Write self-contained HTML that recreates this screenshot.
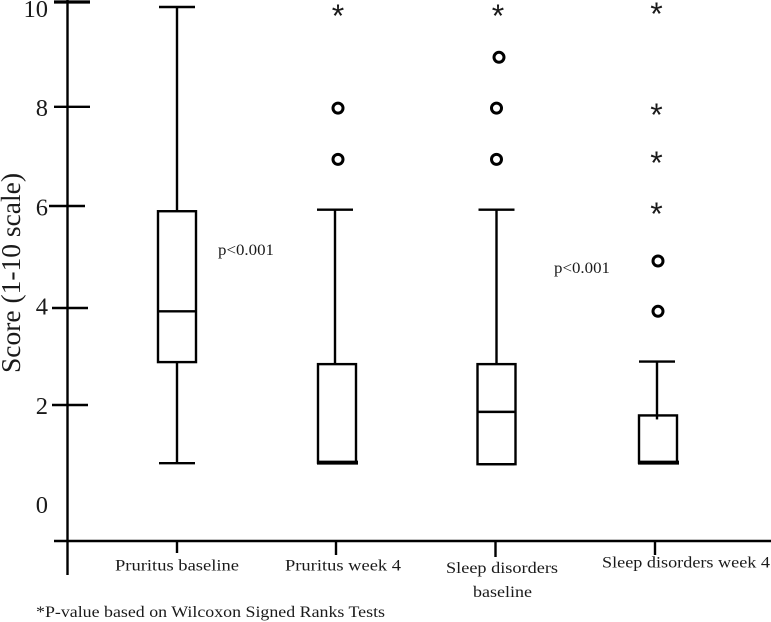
<!DOCTYPE html>
<html>
<head>
<meta charset="utf-8">
<style>
html,body{margin:0;padding:0;background:#fff;}
svg{display:block;font-family:"Liberation Serif",serif;}
text{fill:#1a1a1a;}
</style>
</head>
<body>
<svg id="chart" width="771" height="622" viewBox="0 0 771 622" xmlns="http://www.w3.org/2000/svg">
<line x1="67.5" y1="0" x2="67.5" y2="575" stroke="#000" stroke-width="2.4"/>
<line x1="54" y1="541" x2="771" y2="541" stroke="#000" stroke-width="2.4"/>
<text transform="translate(20,373) rotate(-90)" font-size="27" textLength="200" lengthAdjust="spacingAndGlyphs">Score (1-10 scale)</text>
<text x="218" y="255" font-size="16" textLength="56" lengthAdjust="spacingAndGlyphs">p&lt;0.001</text>
<text x="554" y="273" font-size="16" textLength="56" lengthAdjust="spacingAndGlyphs">p&lt;0.001</text>
<text x="115" y="570.5" font-size="16" textLength="124" lengthAdjust="spacingAndGlyphs">Pruritus baseline</text>
<text x="285" y="570.5" font-size="16" textLength="116" lengthAdjust="spacingAndGlyphs">Pruritus week 4</text>
<text x="446" y="573" font-size="16" textLength="112" lengthAdjust="spacingAndGlyphs">Sleep disorders</text>
<text x="473" y="597" font-size="16" textLength="59" lengthAdjust="spacingAndGlyphs">baseline</text>
<text x="602" y="567.5" font-size="16" textLength="168" lengthAdjust="spacingAndGlyphs">Sleep disorders week 4</text>
<text x="36" y="617" font-size="16" textLength="349" lengthAdjust="spacingAndGlyphs">*P-value based on Wilcoxon Signed Ranks Tests</text>
<g id="marks"></g>
</svg>
<script>
var tickValues = [0, 2, 4, 6, 8, 10];
var markedTicks = [2, 4, 6, 8, 10];
var categories = ["Pruritus baseline", "Pruritus week 4", "Sleep disorders baseline", "Sleep disorders week 4"];
var whiskerHigh = [10, 6.01, 6.01, 3.02];
var q3 = [5.98, 2.97, 2.97, 1.96];
var medians = [4.01, 1.03, 2.03, 1.03];
var q1 = [3.01, 1.03, 1, 1.03];
var whiskerLow = [1.02, 1.03, 1, 1.03];
var circleOutliers = [[], [7, 8.01], [7, 8.01, 9.01], [4.01, 5]];
var starOutliers = [[], [9.9], [9.9], [6, 7, 7.95, 9.94]];

function y(v) { return 515 - 50.8 * v; }
function x(i) { return 177 + 160 * i; }
function tickY(t) {
  var handDrawnShift = {2: -0.8, 4: 3, 6: 1.8, 8: 3.4, 10: -0.6};
  return 506.6 - 50.4 * t + handDrawnShift[t];
}
function labelY(t) { return 513 - 49.6 * t; }

var NS = "http://www.w3.org/2000/svg";
var g = document.getElementById("marks");
function add(tag, attrs, name) {
  var el = document.createElementNS(NS, tag);
  for (var k in attrs) el.setAttribute(k, attrs[k]);
  
  
  g.appendChild(el);
  return el;
}
function seg(x1, y1, x2, y2, name, w) {
  return add("line", {x1: x1, y1: y1, x2: x2, y2: y2, stroke: "#000", "stroke-width": w || 2.4}, name);
}

tickValues.forEach(function (t) {
  var lbl = add("text", {x: 48, y: labelY(t), "font-size": 24.5, "text-anchor": "end"}, "y-tick-label-" + t);
  lbl.textContent = String(t);
});
markedTicks.forEach(function (t) {
  var left = t === 6 ? 49 : (t > 6 ? 54 : 52);
  seg(left, tickY(t), left + 36, tickY(t), "y-tick-" + t, t === 10 ? 3.2 : 2.4);
});

var whiskerShift = [0, -2, -0.5, 0];
var boxShift = [0, 0, -0.5, 1];
var axisTickShift = [0, -1, -1.5, -2];
var axisTickEnd = [553, 555, 557, 555];

categories.forEach(function (c, i) {
  var cx = x(i);
  var wx = cx + whiskerShift[i];
  var bx = cx + boxShift[i];
  var slug = "box-" + (i + 1);
  var tx = cx + axisTickShift[i];
  seg(tx, 541, tx, axisTickEnd[i], "x-tick-" + (i + 1));
  seg(wx, y(whiskerHigh[i]), wx, y(q3[i]) + (i === 3 ? 4 : 0), slug + "-upper-whisker");
  seg(wx - 18, y(whiskerHigh[i]), wx + 18, y(whiskerHigh[i]), slug + "-upper-cap");
  if (q1[i] > whiskerLow[i]) {
    seg(wx, y(q1[i]), wx, y(whiskerLow[i]), slug + "-lower-whisker");
  }
  seg(wx - 18, y(whiskerLow[i]), wx + 18, y(whiskerLow[i]), slug + "-lower-cap");
  add("rect", {x: bx - 19, y: y(q3[i]), width: 38, height: y(q1[i]) - y(q3[i]), fill: "none", stroke: "#000", "stroke-width": 2.4}, slug + "-iqr");
  var thick = medians[i] === q1[i];
  seg(bx - 20, y(medians[i]), thick ? bx + 21 : bx + 19, y(medians[i]), slug + "-median", thick ? 4 : 2.4);
  circleOutliers[i].forEach(function (v, j) {
    var cxShift = (i === 2 && v > 8.5) ? 2 : (i === 2 ? -0.5 : 1);
    add("circle", {cx: cx + cxShift, cy: y(v), r: 5, fill: "#fff", stroke: "#000", "stroke-width": 3}, slug + "-outlier-" + (j + 1));
  });
  starOutliers[i].forEach(function (v, j) {
    var s = add("text", {x: cx + (i === 3 ? -0.5 : 1), y: y(v) + 14.7, "font-size": 32, "text-anchor": "middle", style: "font-family:'Liberation Sans',sans-serif"}, slug + "-extreme-" + (j + 1));
    s.textContent = "*";
  });
});
</script>
</body>
</html>
